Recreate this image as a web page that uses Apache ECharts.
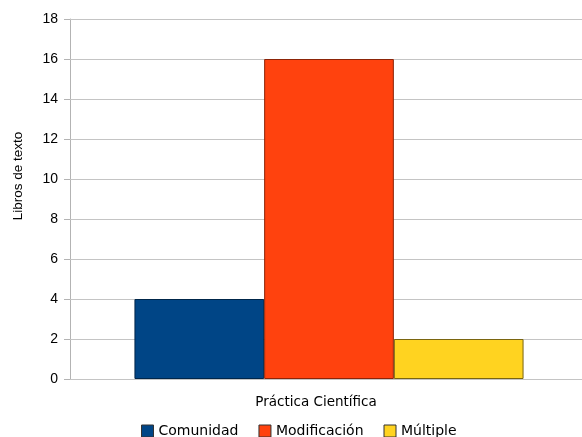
<!DOCTYPE html>
<html>
<head>
<meta charset="utf-8">
<script src="https://cdn.jsdelivr.net/npm/echarts@6/dist/echarts.min.js"></script>
<style>
html, body { margin: 0; padding: 0; background: #fff; }
#chart { width: 582px; height: 437px; }
</style>
</head>
<body>
<div id="chart"></div>
<script>
var categories = ['Práctica Científica'];
var seriesNames = ['Comunidad', 'Modificación', 'Múltiple'];
var comunidad = [4];
var modificacion = [16];
var multiple = [2];
var yTicks = { min: 0, max: 18, interval: 2 };
var colors = ['#004586', '#ff420e', '#ffd320'];
var borders = ['#00264a', '#8c2408', '#7a6510'];
var gridGray = '#c4c4c4';

var myChart = echarts.init(document.getElementById('chart'));
var values = [comunidad, modificacion, multiple];
var series = [];
for (var i = 0; i < seriesNames.length; i++) {
    series.push({
        name: seriesNames[i],
        type: 'bar',
        data: values[i],
        yAxisIndex: 0,
        barGap: '0%',
        barCategoryGap: '23.1%',
        itemStyle: { color: colors[i], borderColor: borders[i], borderWidth: 1 }
    });
}

var option = {
    animation: false,
    textStyle: { fontFamily: 'Liberation Sans' },
    // the bar group sits a bit right of centre in the original, so the plot
    // starts 6px right of the axis line
    grid: { left: 76, right: 0, top: 19, bottom: 58 },
    legend: {
        top: 424,
        left: 141,
        padding: 0,
        icon: 'rect',
        itemWidth: 12,
        itemHeight: 12,
        itemGap: 20,
        textStyle: { fontSize: 14, color: '#000', fontFamily: 'DejaVu Sans' },
        data: seriesNames.map(function (n, i) {
            return { name: n, itemStyle: { color: colors[i], borderColor: '#333', borderWidth: 1 } };
        })
    },
    xAxis: {
        type: 'category',
        data: categories,
        axisLine: { lineStyle: { color: gridGray } },
        axisTick: { show: false },
        axisLabel: { color: '#000', fontSize: 13.5, fontFamily: 'DejaVu Sans', margin: 16, padding: [0, 26, 0, 0] }
    },
    yAxis: [{
        type: 'value',
        min: yTicks.min,
        max: yTicks.max,
        interval: yTicks.interval,
        offset: 6,
        name: 'Libros de texto',
        nameLocation: 'middle',
        nameGap: 45,
        nameTextStyle: { color: '#000', fontSize: 13.5, padding: [0, 0, 0, 46] },
        axisLine: { show: true, lineStyle: { color: '#b3b3b3' } },
        axisTick: { show: true, length: 6, lineStyle: { color: '#b3b3b3' } },
        axisLabel: { color: '#000', fontSize: 14, margin: 12 },
        splitLine: { lineStyle: { color: gridGray } }
    }, {
        // fills the gridlines between the axis line and the plot
        type: 'value',
        position: 'left',
        min: yTicks.min,
        max: yTicks.max,
        interval: yTicks.interval,
        offset: 6,
        axisLine: { show: false },
        axisTick: { show: true, inside: true, length: 6, lineStyle: { color: gridGray } },
        axisLabel: { show: false },
        splitLine: { show: false }
    }],
    series: series
};
myChart.setOption(option);
</script>
</body>
</html>
